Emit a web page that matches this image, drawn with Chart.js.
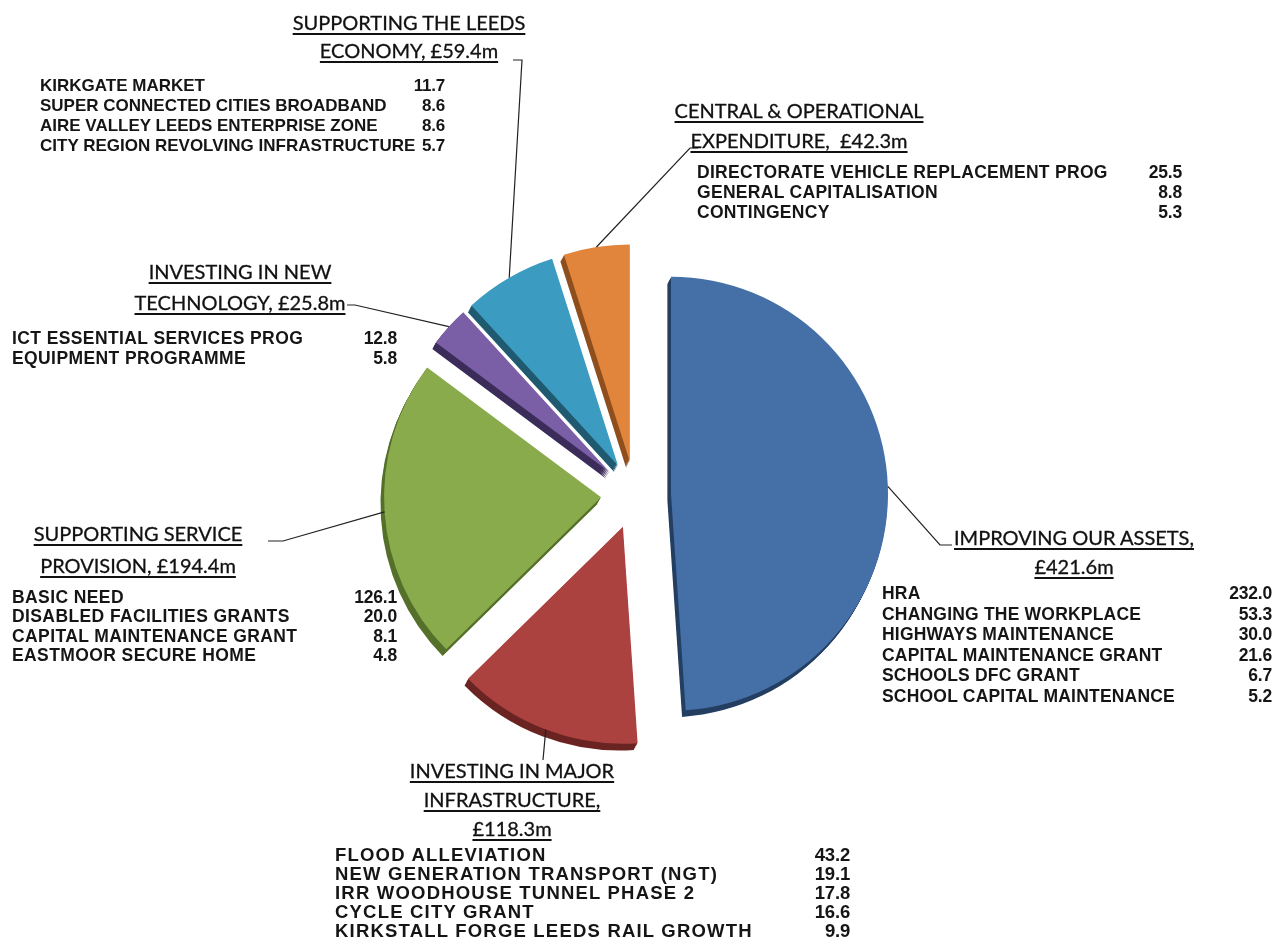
<!DOCTYPE html>
<html lang="en">
<head>
  <meta charset="UTF-8" />
  <title>Leeds Capital Programme</title>
  <script src="https://cdn.jsdelivr.net/npm/chart.js"></script>
  <style>
    body {
      margin: 0;
      background: #fff;
      width: 1275px;
      height: 947px;
      overflow: hidden;
      position: relative;
    }

    #pie {
      position: absolute;
      left: 0;
      top: 0;
    }

    .hdr {
      position: absolute;
      font-family: 'Lato', sans-serif;
      font-size: 20px;
      color: #111;
      -webkit-text-stroke: 0.3px #111;
      text-decoration: underline;
      text-decoration-thickness: 1.5px;
      text-underline-offset: 3px;
      white-space: pre;
      transform: translate(-50%, -50%);
      line-height: 1;
    }

    .row {
      position: absolute;
      font-family: 'Liberation Sans', Arial, sans-serif;
      font-weight: bold;
      font-size: 17px;
      color: #151515;
      white-space: pre;
      line-height: 1;
      transform: translateY(-50%);
    }

    .val {
      text-align: right;
      letter-spacing: -0.2px;
    }
  </style>
</head>

<body>
  <canvas id="pie" width="1275" height="947"></canvas>

  <script>
    // slices, clockwise from 12 o'clock
    const groupNames = [
      'IMPROVING OUR ASSETS',
      'INVESTING IN MAJOR INFRASTRUCTURE',
      'SUPPORTING SERVICE PROVISION',
      'INVESTING IN NEW TECHNOLOGY',
      'SUPPORTING THE LEEDS ECONOMY',
      'CENTRAL & OPERATIONAL EXPENDITURE'
    ];
    const groupTotals = [421.6, 118.3, 194.4, 25.8, 59.4, 42.3];

    // how each heading is broken over lines
    const headingLines = [
      ['IMPROVING OUR ASSETS,', '£421.6m'],
      ['INVESTING IN MAJOR', 'INFRASTRUCTURE,', '£118.3m'],
      ['SUPPORTING SERVICE', 'PROVISION, £194.4m'],
      ['INVESTING IN NEW', 'TECHNOLOGY, £25.8m'],
      ['SUPPORTING THE LEEDS', 'ECONOMY, £59.4m'],
      ['CENTRAL & OPERATIONAL', 'EXPENDITURE,  £42.3m']
    ];

    const assetsItems = ['HRA', 'CHANGING THE WORKPLACE', 'HIGHWAYS MAINTENANCE', 'CAPITAL MAINTENANCE GRANT', 'SCHOOLS DFC GRANT', 'SCHOOL CAPITAL MAINTENANCE'];
    const assetsValues = [232.0, 53.3, 30.0, 21.6, 6.7, 5.2];

    const infraItems = ['FLOOD ALLEVIATION', 'NEW GENERATION TRANSPORT (NGT)', 'IRR WOODHOUSE TUNNEL PHASE 2', 'CYCLE CITY GRANT', 'KIRKSTALL FORGE LEEDS RAIL GROWTH'];
    const infraValues = [43.2, 19.1, 17.8, 16.6, 9.9];

    const serviceItems = ['BASIC NEED', 'DISABLED FACILITIES GRANTS', 'CAPITAL MAINTENANCE GRANT', 'EASTMOOR SECURE HOME'];
    const serviceValues = [126.1, 20.0, 8.1, 4.8];

    const techItems = ['ICT ESSENTIAL SERVICES PROG', 'EQUIPMENT PROGRAMME'];
    const techValues = [12.8, 5.8];

    const economyItems = ['KIRKGATE MARKET', 'SUPER CONNECTED CITIES BROADBAND', 'AIRE VALLEY LEEDS ENTERPRISE ZONE', 'CITY REGION REVOLVING INFRASTRUCTURE'];
    const economyValues = [11.7, 8.6, 8.6, 5.7];

    const centralItems = ['DIRECTORATE VEHICLE REPLACEMENT PROG', 'GENERAL CAPITALISATION', 'CONTINGENCY'];
    const centralValues = [25.5, 8.8, 5.3];

    const sliceColors = ['#4470a7', '#ab4240', '#8aab4b', '#7a5ea6', '#3b9bc0', '#e0853b'];
    const sideColors = ['#243f62', '#6a2422', '#55702a', '#3c2c5a', '#1f5a70', '#8f4f1d'];

    const groupItems = [
      [assetsItems, assetsValues],
      [infraItems, infraValues],
      [serviceItems, serviceValues],
      [techItems, techValues],
      [economyItems, economyValues],
      [centralItems, centralValues]
    ];

    // how far each slice is pulled out from the centre (px)
    const explode = [36, 34, 34, 34, 34, 34];

    // where the text blocks sit (heading centre, table box) and the text end of each leader
    const layout = [
      { hx: 1074, hy: 537, gap: 29, left: 882, right: 1272, top: 594, rowH: 20.6, fs: 17.5, ls: 0.2, leader: [[940, 545], [952, 545]] },
      { hx: 512, hy: 770, gap: 29, left: 335, right: 850, top: 855, rowH: 19, fs: 18.5, ls: 1.2, leader: [[543, 760]] },
      { hx: 138, hy: 533, gap: 32, left: 12, right: 397, top: 598, rowH: 19.4, fs: 17.5, ls: 0.4, leader: [[283, 541], [268, 541]] },
      { hx: 240, hy: 271, gap: 31, left: 12, right: 397, top: 339, rowH: 20, fs: 17.5, ls: 0.4, leader: [[355, 305], [347, 305]] },
      { hx: 409, hy: 22, gap: 28, left: 40, right: 445, top: 85, rowH: 20, fs: 17, ls: 0, leader: [[522, 60], [513, 60]] },
      { hx: 799, hy: 110, gap: 30, left: 697, right: 1182, top: 173, rowH: 20, fs: 17.5, ls: 0.3, leader: [[690, 148], [698, 148]] }
    ];

    // text blocks
    layout.forEach((L, i) => {
      headingLines[i].forEach((t, k) => {
        const d = document.createElement('div');
        d.className = 'hdr';
        d.textContent = t;
        d.style.left = L.hx + 'px';
        d.style.top = (L.hy + k * L.gap) + 'px';
        document.body.appendChild(d);
      });
      const [names, vals] = groupItems[i];
      names.forEach((n, k) => {
        const y = L.top + k * L.rowH;
        const a = document.createElement('div');
        a.className = 'row';
        a.textContent = n;
        a.style.left = L.left + 'px';
        a.style.top = y + 'px';
        a.style.fontSize = L.fs + 'px';
        a.style.letterSpacing = L.ls + 'px';
        document.body.appendChild(a);
        const b = document.createElement('div');
        b.className = 'row val';
        b.textContent = vals[k].toFixed(1);
        b.style.left = (L.right - 70) + 'px';
        b.style.width = '70px';
        b.style.top = y + 'px';
        b.style.fontSize = L.fs + 'px';
        document.body.appendChild(b);
      });
    });

    function pullOut(arc, i) {
      const mid = (arc.startAngle + arc.endAngle) / 2;
      return [Math.cos(mid) * explode[i], Math.sin(mid) * explode[i]];
    }

    // exploded slices with a dark extruded side, drawn with the arc elements themselves
    const explodePlugin = {
      id: 'explode',
      beforeDatasetDraw(chart, args) {
        const ctx = chart.ctx;
        const arcs = args.meta.data;
        arcs.forEach((arc, i) => {
          const [dx, dy] = pullOut(arc, i);
          const keep = arc.options.backgroundColor;
          arc.options.backgroundColor = sideColors[i];
          for (let s = 6; s >= 1; s--) {
            ctx.save();
            ctx.translate(dx - 0.6 * s, dy + 1.1 * s);
            arc.draw(ctx);
            ctx.restore();
          }
          arc.options.backgroundColor = keep;
        });
        arcs.forEach((arc, i) => {
          const [dx, dy] = pullOut(arc, i);
          ctx.save();
          ctx.translate(dx, dy);
          arc.draw(ctx);
          ctx.restore();
        });
        return false;
      }
    };

    // leader lines from each slice's outer edge to its heading
    const leaderPlugin = {
      id: 'leaders',
      afterDatasetsDraw(chart) {
        const ctx = chart.ctx;
        const meta = chart.getDatasetMeta(0);
        ctx.save();
        ctx.strokeStyle = '#222';
        ctx.lineWidth = 1.2;
        meta.data.forEach((arc, i) => {
          const mid = (arc.startAngle + arc.endAngle) / 2;
          const r = arc.outerRadius + explode[i];
          ctx.beginPath();
          ctx.moveTo(arc.x + Math.cos(mid) * r, arc.y + Math.sin(mid) * r);
          layout[i].leader.forEach(pt => ctx.lineTo(pt[0], pt[1]));
          ctx.stroke();
        });
        ctx.restore();
      }
    };

    new Chart(document.getElementById('pie'), {
      type: 'pie',
      data: {
        labels: groupNames,
        datasets: [{
          data: groupTotals,
          backgroundColor: sliceColors,
          borderWidth: 0,
          radius: 217
        }]
      },
      options: {
        responsive: false,
        animation: false,
        layout: { padding: { left: 200, right: 205, top: 143, bottom: 100 } },
        plugins: {
          legend: { display: false },
          tooltip: { enabled: false }
        }
      },
      plugins: [explodePlugin, leaderPlugin]
    });
  </script>
</body>
</html>
